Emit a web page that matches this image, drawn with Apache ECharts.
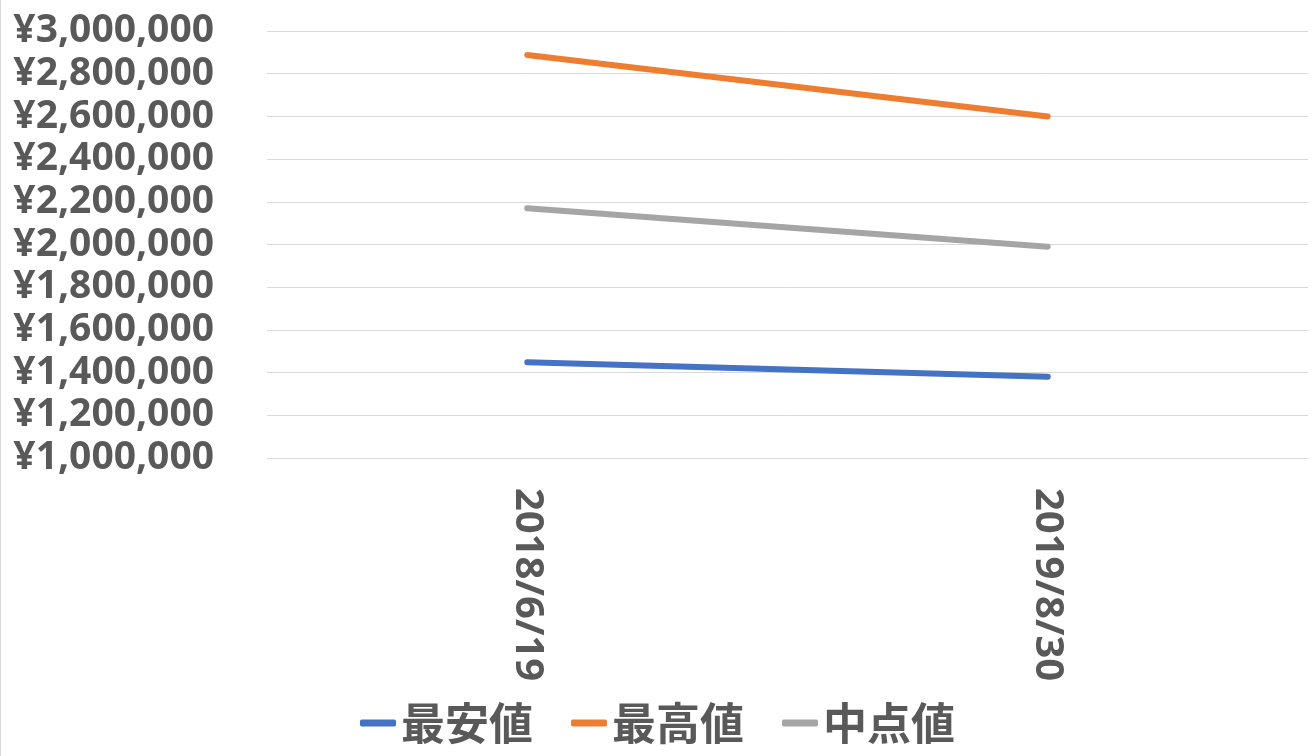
<!DOCTYPE html>
<html>
<head>
<meta charset="utf-8">
<script src="https://cdn.jsdelivr.net/npm/echarts@6/dist/echarts.min.js"></script>
<style>
  html, body { margin: 0; padding: 0; background: #fff; }
  #chart { width: 1315px; height: 756px; }
</style>
</head>
<body>
<div id="chart"></div>
<script>
// Price history: lowest, highest and midpoint on each survey date
const dates = ['2018/6/19', '2019/8/30'];
const seriesNames = ['最安値', '最高値', '中点値'];
const lowest = [1448000, 1381000];
const highest = [2888000, 2600000];
const midpoint = [2170000, 1990000];
const colors = ['#4472C4', '#ED7D31', '#A5A5A5'];

const textColor = '#595959';
const numFont = '"Open Sans", "Noto Sans", sans-serif';
const cjkFont = '"Noto Sans CJK JP", "Noto Sans", sans-serif';

function yen(v) {
  return '¥' + v.toLocaleString('en-US');
}

const chart = echarts.init(document.getElementById('chart'), null, { renderer: 'canvas' });

const values = [lowest, highest, midpoint];

chart.setOption({
  animation: false,
  backgroundColor: '#fff',
  grid: { left: 267, right: 7, top: 31, bottom: 298, containLabel: false },
  legend: {
    bottom: 6,
    left: 'center',
    icon: 'roundRect',
    itemWidth: 36,
    itemHeight: 7,
    itemGap: 38,
    textStyle: { color: textColor, fontFamily: cjkFont, fontWeight: 'bold', fontSize: 44 },
    data: seriesNames
  },
  xAxis: {
    type: 'category',
    data: dates,
    boundaryGap: true,
    axisLine: { show: false },
    axisTick: { show: false },
    axisLabel: {
      rotate: -90,
      margin: 30,
      color: textColor,
      fontFamily: numFont,
      fontWeight: 'bold',
      fontSize: 40
    }
  },
  yAxis: {
    type: 'value',
    min: 1000000,
    max: 3000000,
    interval: 200000,
    axisLine: { show: false },
    axisTick: { show: false },
    splitLine: { lineStyle: { color: '#D9D9D9', width: 1 } },
    axisLabel: {
      margin: 53,
      color: textColor,
      fontFamily: numFont,
      fontWeight: 'bold',
      fontSize: 39,
      formatter: yen
    }
  },
  series: seriesNames.map((name, i) => ({
    name,
    type: 'line',
    data: values[i],
    showSymbol: false,
    symbol: 'none',
    itemStyle: { color: colors[i] },
    lineStyle: { color: colors[i], width: 6, cap: 'round' }
  })),
  graphic: [{
    type: 'line',
    shape: { x1: 0.5, y1: 0, x2: 0.5, y2: 756 },
    style: { stroke: '#D9D9D9', lineWidth: 1 }
  }]
});
</script>
</body>
</html>
